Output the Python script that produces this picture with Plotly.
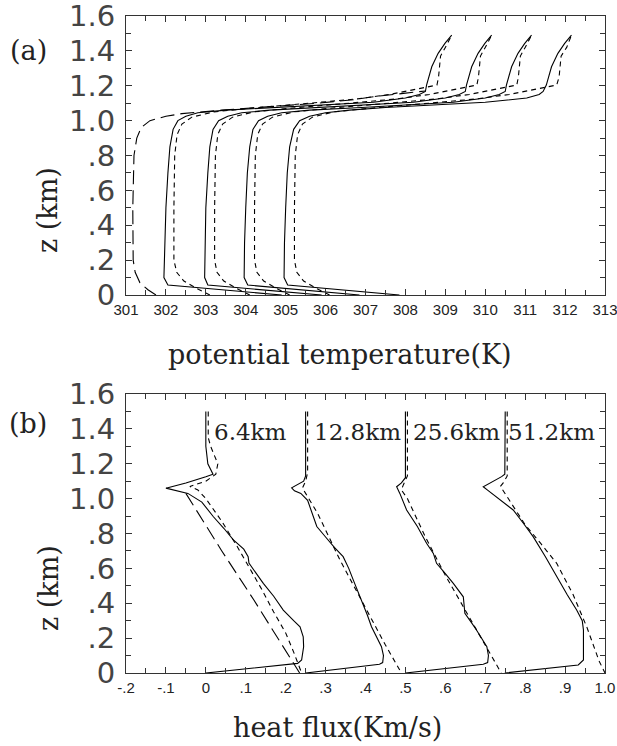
import plotly.graph_objects as go

# ---------------- Panel (a): potential temperature profiles ----------------
# long-dashed reference profile
a_ref_z = [0.0, 0.03, 0.07, 0.13, 0.2, 0.5, 0.8, 0.9, 0.96, 1.0, 1.025, 1.04, 1.06, 1.08, 1.10, 1.12, 1.137, 1.155, 1.17]
a_ref_t = [301.75, 301.55, 301.35, 301.23, 301.18, 301.17, 301.2, 301.27, 301.38, 301.6, 302.0, 302.4, 303.4, 304.6, 305.8, 306.7, 307.2, 307.9, 308.5]

a_sol_z = [0.0, 0.057, 0.1, 0.3, 0.5, 0.7, 0.85, 0.95, 1.0, 1.025, 1.045, 1.06, 1.075, 1.09, 1.105, 1.13, 1.15, 1.167, 1.204, 1.309, 1.386, 1.443, 1.49]
a_sol_1 = [304.9, 302.05, 301.95, 301.97, 302.0, 302.05, 302.1, 302.18, 302.3, 302.5, 302.8, 303.5, 304.8, 306.0, 307.2, 308.0, 308.35, 308.5, 308.53, 308.66, 308.82, 308.99, 309.16]
a_sol_2 = [305.9, 303.05, 302.97, 302.98, 303.0, 303.05, 303.1, 303.18, 303.32, 303.55, 303.9, 304.6, 305.9, 307.0, 308.2, 309.0, 309.35, 309.5, 309.53, 309.66, 309.82, 309.99, 310.16]
a_sol_3 = [306.85, 304.05, 303.96, 303.97, 304.0, 304.04, 304.1, 304.18, 304.32, 304.55, 304.9, 305.6, 306.9, 308.0, 309.2, 310.0, 310.35, 310.5, 310.53, 310.66, 310.82, 310.99, 311.16]
a_sol_4 = [307.85, 305.05, 304.96, 304.97, 305.0, 305.04, 305.1, 305.2, 305.35, 305.6, 306.0, 306.6, 307.5, 308.7, 310.0, 311.04, 311.35, 311.45, 311.53, 311.66, 311.82, 311.99, 312.16]

a_das_z = [0.0, 0.04, 0.08, 0.13, 0.2, 0.5, 0.8, 0.92, 0.98, 1.02, 1.05, 1.075, 1.10, 1.125, 1.15, 1.166, 1.185, 1.204, 1.25, 1.29, 1.37, 1.42, 1.49]
a_das_1 = [303.1, 302.75, 302.45, 302.27, 302.2, 302.2, 302.22, 302.28, 302.4, 302.65, 303.2, 304.3, 305.6, 306.8, 307.6, 307.95, 308.4, 308.79, 308.83, 308.85, 308.88, 309.0, 309.16]
a_das_2 = [304.1, 303.75, 303.45, 303.28, 303.22, 303.22, 303.24, 303.3, 303.42, 303.67, 304.2, 305.3, 306.6, 307.8, 308.6, 308.95, 309.4, 309.79, 309.83, 309.85, 309.88, 310.0, 310.16]
a_das_3 = [305.1, 304.75, 304.45, 304.28, 304.22, 304.22, 304.24, 304.3, 304.42, 304.67, 305.2, 306.3, 307.6, 308.8, 309.6, 309.95, 310.4, 310.79, 310.83, 310.85, 310.88, 311.0, 311.16]
a_das_4 = [306.1, 305.75, 305.45, 305.28, 305.22, 305.22, 305.24, 305.3, 305.42, 305.67, 306.2, 307.3, 308.6, 309.8, 310.6, 310.95, 311.4, 311.79, 311.85, 311.87, 311.9, 312.04, 312.16]

# ---------------- Panel (b): heat flux profiles ----------------
b_ref_x = [-0.05, 0.04, 0.12, 0.19, 0.235]
b_ref_z = [1.03, 0.70, 0.42, 0.16, 0.0]

b_s1_x = [0.0, 0.0, 0.005, 0.018, 0.0, -0.05, -0.1, -0.07, -0.045, -0.01, 0.019, 0.045, 0.069, 0.095, 0.106, 0.108, 0.12, 0.144, 0.17, 0.194, 0.22, 0.236, 0.244, 0.245, 0.24, 0.23, 0.0]
b_s1_z = [1.5, 1.3, 1.2, 1.14, 1.125, 1.09, 1.06, 1.045, 1.03, 0.98, 0.896, 0.83, 0.763, 0.71, 0.667, 0.63, 0.59, 0.514, 0.44, 0.361, 0.3, 0.265, 0.208, 0.15, 0.075, 0.055, 0.0]
b_d1_x = [0.006, 0.006, 0.012, 0.03, 0.025, 0.0, -0.04, -0.02, 0.0, 0.04, 0.08, 0.11, 0.14, 0.17, 0.2, 0.22, 0.24]
b_d1_z = [1.5, 1.35, 1.3, 1.2, 1.14, 1.1, 1.07, 1.05, 1.0, 0.87, 0.72, 0.6, 0.48, 0.35, 0.23, 0.12, 0.0]

b_s2_x = [0.25, 0.25, 0.245, 0.228, 0.215, 0.222, 0.238, 0.255, 0.278, 0.3, 0.322, 0.344, 0.358, 0.37, 0.382, 0.394, 0.405, 0.415, 0.43, 0.44, 0.445, 0.443, 0.435, 0.25]
b_s2_z = [1.5, 1.13, 1.1, 1.08, 1.062, 1.045, 1.03, 0.99, 0.84, 0.78, 0.72, 0.667, 0.6, 0.53, 0.46, 0.4, 0.33, 0.265, 0.2, 0.151, 0.1, 0.06, 0.05, 0.0]
b_d2_x = [0.255, 0.255, 0.25, 0.242, 0.25, 0.28, 0.336, 0.37, 0.411, 0.45, 0.49]
b_d2_z = [1.5, 1.15, 1.1, 1.06, 1.03, 0.916, 0.648, 0.5, 0.323, 0.16, 0.0]

b_s3_x = [0.5, 0.5, 0.49, 0.478, 0.486, 0.503, 0.53, 0.553, 0.57, 0.578, 0.6, 0.62, 0.645, 0.649, 0.665, 0.678, 0.704, 0.708, 0.706, 0.695, 0.5]
b_s3_z = [1.5, 1.12, 1.09, 1.068, 1.03, 0.935, 0.84, 0.744, 0.686, 0.629, 0.57, 0.514, 0.437, 0.342, 0.29, 0.247, 0.151, 0.1, 0.06, 0.05, 0.0]
b_d3_x = [0.505, 0.505, 0.495, 0.49, 0.505, 0.55, 0.6, 0.65, 0.69, 0.74]
b_d3_z = [1.5, 1.13, 1.08, 1.05, 1.0, 0.78, 0.56, 0.36, 0.2, 0.0]

b_s4_x = [0.75, 0.749, 0.741, 0.72, 0.695, 0.705, 0.716, 0.745, 0.77, 0.795, 0.82, 0.85, 0.879, 0.905, 0.929, 0.943, 0.946, 0.947, 0.946, 0.933, 0.749]
b_s4_z = [1.5, 1.14, 1.126, 1.1, 1.068, 1.05, 1.03, 0.98, 0.935, 0.86, 0.782, 0.67, 0.552, 0.45, 0.361, 0.3, 0.247, 0.15, 0.075, 0.046, 0.0]
b_d4_x = [0.755, 0.755, 0.745, 0.738, 0.755, 0.8, 0.84, 0.879, 0.92, 0.955, 0.985, 1.0]
b_d4_z = [1.5, 1.13, 1.09, 1.07, 1.01, 0.85, 0.74, 0.629, 0.45, 0.26, 0.07, 0.0]

b_labels = ["6.4km", "12.8km", "25.6km", "51.2km"]
b_label_x = [0.111, 0.381, 0.629, 0.867]
b_label_z = [1.38, 1.38, 1.38, 1.38]

a_xtick_vals = list(range(301, 314))
a_xtick_text = [str(v) for v in a_xtick_vals]
b_xtick_vals = [-0.2, -0.1, 0.0, 0.1, 0.2, 0.3, 0.4, 0.5, 0.6, 0.7, 0.8, 0.9, 1.0]
b_xtick_text = ["-.2", "-.1", "0", ".1", ".2", ".3", ".4", ".5", ".6", ".7", ".8", ".9", "1.0"]
ytick_vals = [0, 0.2, 0.4, 0.6, 0.8, 1.0, 1.2, 1.4, 1.6]
ytick_text = ["0", ".2", ".4", ".6", ".8", "1.0", "1.2", "1.4", "1.6"]

SOLID = dict(color="black", width=1.1)
DASH = dict(color="black", width=1.1, dash="5px,4px")
LONG = dict(color="black", width=1.1, dash="14px,6px")

fig = go.Figure()

def add(x, y, line, xa, ya):
    fig.add_trace(go.Scatter(x=x, y=y, mode="lines", line=line, xaxis=xa, yaxis=ya,
                             showlegend=False, hoverinfo="skip", cliponaxis=False))

add(a_ref_t, a_ref_z, LONG, "x", "y")
for s in [a_sol_1, a_sol_2, a_sol_3, a_sol_4]:
    add(s, a_sol_z, SOLID, "x", "y")
for d in [a_das_1, a_das_2, a_das_3, a_das_4]:
    add(d, a_das_z, DASH, "x", "y")

add(b_ref_x, b_ref_z, LONG, "x2", "y2")
for (sx, sz) in [(b_s1_x, b_s1_z), (b_s2_x, b_s2_z), (b_s3_x, b_s3_z), (b_s4_x, b_s4_z)]:
    add(sx, sz, SOLID, "x2", "y2")
for (dx, dz) in [(b_d1_x, b_d1_z), (b_d2_x, b_d2_z), (b_d3_x, b_d3_z), (b_d4_x, b_d4_z)]:
    add(dx, dz, DASH, "x2", "y2")

W, H = 617, 746

def PX(x):
    return x / W

def PY(y):
    return 1 - y / H

xdom = [PX(126), PX(605)]
ydom_a = [PY(295), PY(16)]
ydom_b = [PY(673), PY(394)]

xfont = dict(family="Liberation Sans, Arial, sans-serif", size=15, color="#222")
yfont = dict(family="DejaVu Sans, Liberation Sans, sans-serif", size=29, color="#444")

common_x = dict(domain=xdom, showgrid=False, zeroline=False, showline=True, linecolor="#333",
                linewidth=1.2, mirror="allticks", ticks="inside", ticklen=6, tickwidth=1.2,
                tickcolor="#333", tickfont=xfont, tickmode="array", automargin=False,
                ticklabelstandoff=1, ticklabeloverflow="allow")
common_y = dict(showgrid=False, zeroline=False, showline=True, linecolor="#333", linewidth=1.2,
                mirror="allticks", ticks="inside", ticklen=6, tickwidth=1.2, tickcolor="#333",
                tickfont=yfont, tickmode="array", tickvals=ytick_vals, ticktext=ytick_text,
                range=[0, 1.6], automargin=False, ticklabeloverflow="allow",
                minor=dict(ticks="inside", ticklen=5, tickwidth=1.2, dtick=0.1, tick0=0,
                           tickcolor="#333", showgrid=False),
                ticklabelstandoff=4)

fig.update_layout(
    width=W, height=H, margin=dict(l=0, r=0, t=0, b=0, autoexpand=False),
    paper_bgcolor="white", plot_bgcolor="white",
    xaxis=dict(common_x, anchor="y", range=[301, 313], tickvals=a_xtick_vals, ticktext=a_xtick_text,
               minor=dict(ticks="inside", ticklen=5, tickwidth=1.2, dtick=0.5, tick0=301,
                          tickcolor="#333", showgrid=False)),
    yaxis=dict(common_y, anchor="x", domain=ydom_a),
    xaxis2=dict(common_x, anchor="y2", range=[-0.2, 1.0], tickvals=b_xtick_vals, ticktext=b_xtick_text,
                minor=dict(ticks="inside", ticklen=5, tickwidth=1.2, dtick=0.05, tick0=0,
                           tickcolor="#333", showgrid=False)),
    yaxis2=dict(common_y, anchor="x2", domain=ydom_b),
)

serif = "DejaVu Serif, Liberation Serif, serif"
C = dict(xanchor="center", yanchor="middle", showarrow=False)
ann = []
ann.append(dict(C, text="(a)", x=PX(28), y=PY(50), xref="paper", yref="paper",
                font=dict(family=serif, size=27, color="#222")))
ann.append(dict(C, text="(b)", x=PX(28), y=PY(423), xref="paper", yref="paper",
                font=dict(family=serif, size=27, color="#222")))
ann.append(dict(C, text="z (km)", x=PX(48), y=PY(210), xref="paper", yref="paper",
                textangle=-90, font=dict(family=serif, size=27, color="#222")))
ann.append(dict(C, text="z (km)", x=PX(48), y=PY(588), xref="paper", yref="paper",
                textangle=-90, font=dict(family=serif, size=27, color="#222")))
ann.append(dict(C, text="potential temperature(K)", x=PX(340), y=PY(354), xref="paper", yref="paper",
                font=dict(family=serif, size=27, color="#222")))
ann.append(dict(C, text="heat flux(Km/s)", x=PX(337), y=PY(727), xref="paper", yref="paper",
                font=dict(family=serif, size=27, color="#222")))
for t, lx, lz in zip(b_labels, b_label_x, b_label_z):
    ann.append(dict(C, text=t, x=lx, y=lz, xref="x2", yref="y2",
                    font=dict(family=serif, size=23, color="#222")))
fig.update_layout(annotations=ann)

# remove the default 8px page margin so the figure sits at the window's corner
fig.write_html("out.html", config={"displayModeBar": False},
               post_script="document.body.style.margin='0';")
